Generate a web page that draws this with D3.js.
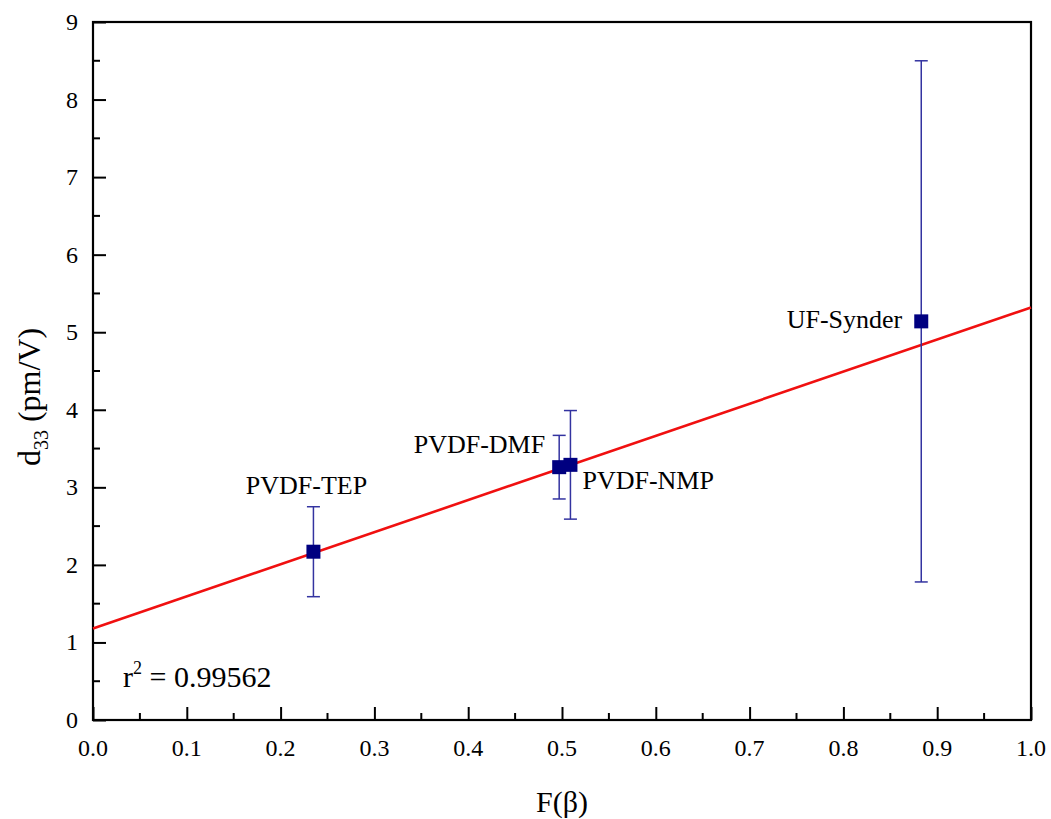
<!DOCTYPE html>
<html><head><meta charset="utf-8">
<script src="https://cdn.jsdelivr.net/npm/d3@7"></script>
</head><body style="margin:0">
<svg id="c" width="1051" height="819"></svg>
<script>
const samples = ["PVDF-TEP","PVDF-DMF","PVDF-NMP","UF-Synder"];
const fBeta = [0.235, 0.497, 0.509, 0.883];
const d33 = [2.17, 3.26, 3.29, 5.14];
const d33Err = [0.58, 0.41, 0.70, 3.36];
const fitIntercept = 1.18, fitSlope = 4.14;
const fitText = "0.99562";
const xTicks = [0,0.1,0.2,0.3,0.4,0.5,0.6,0.7,0.8,0.9,1.0];
const yTicks = [0,1,2,3,4,5,6,7,8,9];
const labelPos = [[-7,-58,"middle"],[-14,-14,"end"],[12,24,"start"],[-19,7,"end"]];

const svg = d3.select("#c");
const L=93,R=1031,T=22,B=720;
const x = d3.scaleLinear().domain([0,1]).range([L,R]);
const y = d3.scaleLinear().domain([0,9]).range([B,T]);

function txt(sel, size){ return sel.attr("font-size",size).attr("font-family","Times New Roman").style("font-family","'Times New Roman'"); }

const gx = svg.append("g").attr("transform",`translate(0,${B})`)
  .call(d3.axisBottom(x).tickValues(xTicks).tickSize(-13).tickFormat(""));
const gy = svg.append("g").attr("transform",`translate(${L},0)`)
  .call(d3.axisLeft(y).tickValues(yTicks).tickSize(-13).tickFormat(""));
[gx,gy].forEach(g=>{
  g.attr("font-family",null).attr("font-size",null);
  g.select(".domain").remove();
  g.selectAll(".tick line").attr("stroke","#000").attr("stroke-width",2);
  g.selectAll(".tick text").remove();
});
txt(svg.selectAll("text.xl").data(xTicks).join("text").attr("class","xl")
  .attr("x",d=>x(d)).attr("y",B+36).attr("text-anchor","middle"),24).text(d3.format(".1f"));
txt(svg.selectAll("text.yl").data(yTicks).join("text").attr("class","yl")
  .attr("x",L-15).attr("y",d=>y(d)+8).attr("text-anchor","end"),24).text(d3.format("d"));

const xMinor = d3.range(0.05,1,0.1);
svg.append("g").selectAll("line").data(xMinor).join("line")
  .attr("x1",d=>x(d)).attr("x2",d=>x(d)).attr("y1",B).attr("y2",B-7)
  .attr("stroke","#000").attr("stroke-width",2);
const yMinor = d3.range(0.5,9,1);
svg.append("g").selectAll("line").data(yMinor).join("line")
  .attr("y1",d=>y(d)).attr("y2",d=>y(d)).attr("x1",L).attr("x2",L+7)
  .attr("stroke","#000").attr("stroke-width",2);
svg.append("rect").attr("x",L).attr("y",T).attr("width",R-L).attr("height",B-T)
  .attr("fill","none").attr("stroke","#000").attr("stroke-width",2.2);

svg.append("line")
  .attr("x1",x(0)).attr("y1",y(fitIntercept))
  .attr("x2",x(1)).attr("y2",y(fitIntercept+fitSlope))
  .attr("stroke","#f01010").attr("stroke-width",2.6);

const eb = svg.append("g").attr("stroke","#3333a0").attr("stroke-width",1.5);
samples.forEach((s,i)=>{
  const cx=x(fBeta[i]), y1=y(d33[i]+d33Err[i]), y2=y(d33[i]-d33Err[i]);
  eb.append("line").attr("x1",cx).attr("x2",cx).attr("y1",y1).attr("y2",y2);
  eb.append("line").attr("x1",cx-6.5).attr("x2",cx+6.5).attr("y1",y1).attr("y2",y1);
  eb.append("line").attr("x1",cx-6.5).attr("x2",cx+6.5).attr("y1",y2).attr("y2",y2);
});
svg.append("g").selectAll("rect").data(samples).join("rect")
  .attr("x",(d,i)=>x(fBeta[i])-7).attr("y",(d,i)=>y(d33[i])-7)
  .attr("width",14).attr("height",14).attr("fill","#000080");

samples.forEach((s,i)=>{
  txt(svg.append("text")
    .attr("x",x(fBeta[i])+labelPos[i][0])
    .attr("y",y(d33[i])+labelPos[i][1])
    .attr("text-anchor",labelPos[i][2]),26).text(s);
});

const rt = txt(svg.append("text").attr("x",123).attr("y",687),30);
rt.append("tspan").text("r");
rt.append("tspan").attr("font-size",18).attr("dy",-13).text("2");
rt.append("tspan").attr("dy",13).text(" = "+fitText);

txt(svg.append("text").attr("x",(L+R)/2).attr("y",812).attr("text-anchor","middle"),30).text("F(β)");
const yt = txt(svg.append("text").attr("transform","translate(40,397) rotate(-90)")
  .attr("text-anchor","middle"),32);
yt.append("tspan").text("d");
yt.append("tspan").attr("font-size",20).attr("dy",8).text("33");
yt.append("tspan").attr("dy",-8).text(" (pm/V)");
</script>
</body></html>
